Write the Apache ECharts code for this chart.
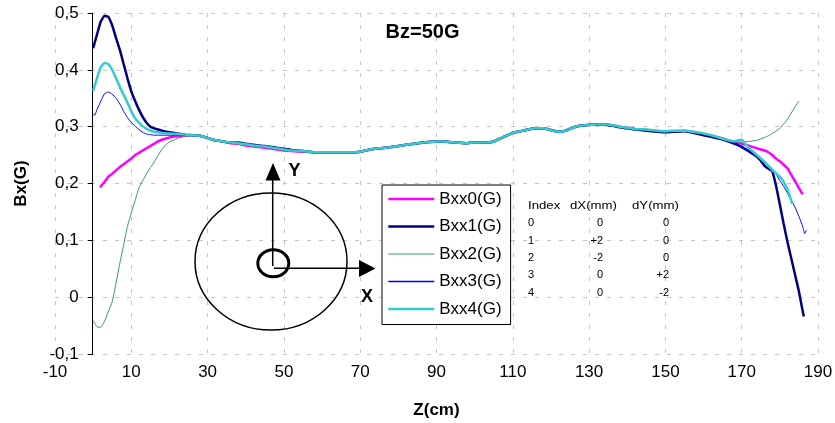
<!DOCTYPE html>
<html><head><meta charset="utf-8">
<script src="https://cdn.jsdelivr.net/npm/echarts@6/dist/echarts.min.js"></script>
<style>html,body{margin:0;padding:0;background:#fff}#c{width:835px;height:423px}</style>
</head><body><div id="c"></div>
<script>
// ---------- DATA ----------
const seriesNames = ['Bxx0(G)', 'Bxx1(G)', 'Bxx2(G)', 'Bxx3(G)', 'Bxx4(G)'];
const xTickLabels = [-10, 10, 30, 50, 70, 90, 110, 130, 150, 170, 190];
const yTickLabels = [-0.1, 0, 0.1, 0.2, 0.3, 0.4, 0.5];
const chartTitle = 'Bz=50G';
const xAxisName = 'Z(cm)';
const yAxisName = 'Bx(G)';

// [Z(cm), Bx(G)]
const bxx0 = [[1.8,0.193],[3,0.203],[4,0.212],[5,0.217],[6,0.223],[7,0.229],[8,0.234],[9,0.239],[10,0.244],[11,0.250],[12,0.254],[13,0.258],[14,0.262],[15,0.266],[16,0.270],[17,0.274],[18,0.277],[20,0.281],[22,0.283],[24,0.284],
 [26,0.285],[28,0.284],[30,0.280],[32,0.276],[34,0.274],[36,0.271],[38,0.270],[40,0.267],[42,0.265],[45,0.263],[48,0.260],[50,0.258],[52,0.257],[55,0.256],[58,0.255],[60,0.255],[62,0.255],[65,0.255],[68,0.255],[70,0.256],[72,0.259],[75,0.262],[78,0.264],[80,0.266],[82,0.268],[85,0.271],[88,0.273],[90,0.274],[92,0.274],[95,0.272],[98,0.271],[100,0.272],[103,0.272],[105,0.274],[107,0.280],[110,0.289],[112,0.292],[114,0.295],[116,0.297],[118,0.297],[120,0.294],[122,0.291],[124,0.294],[126,0.299],[128,0.302],[130,0.303],[132,0.304],[135,0.304],[138,0.300],[140,0.298],[142,0.296],[145,0.294],[148,0.292],[150,0.291],[152,0.292],[155,0.293],[158,0.290],[160,0.287],[162,0.284],[164,0.281],[166,0.277],[168,0.273],
 [170,0.270],[172,0.266],[174,0.262],[176,0.258],[177,0.255],[178,0.250],[179,0.244],[180,0.239],[181,0.233],[182,0.227],[183,0.215],[184,0.204],[185,0.192],[186,0.181]];

const bxx1 = [[0,0.438],[1,0.462],[2,0.485],[3,0.495],[4,0.493],[5,0.478],[6,0.456],[7,0.435],[8,0.410],[9,0.385],[10,0.362],[11,0.345],[12,0.330],[13,0.317],[14,0.307],[15,0.300],[16,0.297],[17,0.295],[18,0.293],[20,0.290],[22,0.288],[24,0.286],
 [26,0.285],[28,0.284],[30,0.280],[32,0.276],[34,0.274],[36,0.272],[38,0.272],[40,0.270],[42,0.268],[45,0.266],[48,0.263],[50,0.261],[52,0.259],[55,0.257],[58,0.255],[60,0.255],[62,0.255],[65,0.255],[68,0.255],[70,0.256],[72,0.259],[75,0.262],[78,0.264],[80,0.266],[82,0.268],[85,0.271],[88,0.273],[90,0.274],[92,0.274],[95,0.272],[98,0.271],[100,0.272],[103,0.272],[105,0.274],[107,0.280],[110,0.289],[112,0.292],[114,0.295],[116,0.297],[118,0.297],[120,0.294],[122,0.291],[124,0.293],[126,0.299],[128,0.302],[130,0.303],[132,0.304],[135,0.303],[138,0.299],[140,0.297],[142,0.295],[145,0.293],[148,0.291],[150,0.290],[152,0.291],[155,0.292],[158,0.288],[160,0.285],[162,0.282],[164,0.279],[166,0.275],[168,0.270],
 [170,0.264],[172,0.256],[174,0.247],[175,0.240],[176,0.231],[177,0.226],[178,0.222],[179,0.196],[180,0.163],[181,0.129],[182,0.097],[183,0.068],[184,0.039],[185,0.010],[186,-0.025],[186.3,-0.034]];

const bxx2 = [[0,-0.041],[1,-0.052],[2,-0.053],[3,-0.042],[4,-0.025],[5,-0.008],[6,0.025],[7,0.060],[8,0.092],[9,0.125],[10,0.148],[11,0.170],[12,0.192],[13,0.205],[14,0.217],[15,0.228],[16,0.238],[17,0.249],[18,0.260],[19,0.268],[20,0.273],[22,0.279],[24,0.283],
 [26,0.285],[28,0.285],[30,0.281],[32,0.276],[34,0.274],[36,0.272],[38,0.270],[40,0.268],[42,0.266],[45,0.264],[48,0.261],[50,0.259],[52,0.257],[55,0.256],[58,0.255],[60,0.255],[62,0.255],[65,0.255],[68,0.255],[70,0.256],[72,0.259],[75,0.262],[78,0.264],[80,0.266],[82,0.268],[85,0.271],[88,0.273],[90,0.274],[92,0.274],[95,0.272],[98,0.271],[100,0.272],[103,0.272],[105,0.274],[107,0.280],[110,0.289],[112,0.292],[114,0.295],[116,0.297],[118,0.297],[120,0.294],[122,0.291],[124,0.293],[126,0.299],[128,0.302],[130,0.303],[132,0.304],[135,0.304],[138,0.300],[140,0.298],[142,0.296],[145,0.294],[148,0.292],[150,0.291],[152,0.292],[155,0.293],[158,0.290],[160,0.287],[162,0.284],[164,0.280],[166,0.276],[168,0.273],
 [170,0.273],[172,0.274],[174,0.276],[176,0.281],[177,0.284],[178,0.288],[179,0.292],[180,0.297],[181,0.305],[182,0.313],[183,0.324],[184,0.335],[185,0.345]];

const bxx3 = [[0,0.322],[0.4,0.320],[1,0.330],[2,0.345],[3,0.358],[4,0.361],[5,0.357],[6,0.350],[7,0.340],[8,0.327],[9,0.316],[10,0.307],[11,0.301],[12,0.295],[13,0.290],[14,0.287],[15,0.286],[16,0.285],[17,0.285],[18,0.285],[20,0.285],[22,0.285],[24,0.285],
 [26,0.285],[28,0.284],[30,0.280],[32,0.276],[34,0.274],[36,0.272],[38,0.271],[40,0.269],[42,0.267],[45,0.265],[48,0.262],[50,0.260],[52,0.258],[55,0.257],[58,0.255],[60,0.255],[62,0.255],[65,0.255],[68,0.255],[70,0.256],[72,0.259],[75,0.262],[78,0.264],[80,0.266],[82,0.268],[85,0.271],[88,0.273],[90,0.274],[92,0.274],[95,0.272],[98,0.271],[100,0.272],[103,0.272],[105,0.274],[107,0.280],[110,0.289],[112,0.292],[114,0.295],[116,0.297],[118,0.297],[120,0.294],[122,0.291],[124,0.293],[126,0.299],[128,0.302],[130,0.303],[132,0.304],[135,0.304],[138,0.300],[140,0.298],[142,0.296],[145,0.294],[148,0.292],[150,0.291],[152,0.292],[155,0.293],[158,0.290],[160,0.287],[162,0.284],[164,0.280],[166,0.276],[168,0.272],
 [170,0.266],[172,0.258],[174,0.250],[176,0.238],[177,0.232],[178,0.226],[179,0.217],[180,0.205],[181,0.195],[182,0.183],[183,0.170],[184,0.158],[185,0.142],[186,0.124],[186.5,0.112],[187,0.118]];

const bxx4 = [[0,0.363],[1,0.385],[2,0.405],[3,0.412],[4,0.410],[5,0.400],[6,0.385],[7,0.370],[8,0.356],[9,0.342],[10,0.327],[11,0.315],[12,0.307],[13,0.301],[14,0.296],[15,0.293],[16,0.291],[17,0.290],[18,0.289],[20,0.288],[22,0.287],[24,0.286],
 [26,0.285],[28,0.284],[30,0.280],[32,0.276],[34,0.274],[36,0.272],[38,0.271],[40,0.269],[42,0.267],[45,0.265],[48,0.262],[50,0.260],[52,0.258],[55,0.257],[58,0.255],[60,0.255],[62,0.255],[65,0.255],[68,0.255],[70,0.256],[72,0.259],[75,0.262],[78,0.264],[80,0.266],[82,0.268],[85,0.271],[88,0.273],[90,0.274],[92,0.274],[95,0.272],[98,0.271],[100,0.272],[103,0.272],[105,0.274],[107,0.280],[110,0.289],[112,0.292],[114,0.295],[116,0.297],[118,0.297],[120,0.294],[122,0.291],[124,0.293],[126,0.299],[128,0.302],[130,0.303],[132,0.304],[135,0.304],[138,0.300],[140,0.298],[142,0.296],[145,0.295],[148,0.293],[150,0.292],[152,0.293],[155,0.293],[158,0.290],[160,0.288],[162,0.285],[164,0.281],[166,0.277],[168,0.274],
 [169,0.276],[170,0.277],[171,0.269],[172,0.262],[174,0.250],[176,0.238],[177,0.231],[178,0.224],[179,0.218],[180,0.212],[181,0.203],[182,0.190],[183,0.170],[183.3,0.164]];

const seriesData = [bxx0, bxx1, bxx2, bxx3, bxx4];

// table annotation
const tableHeader = ['Index', 'dX(mm)', 'dY(mm)'];
const tableIndex = ['0', '1', '2', '3', '4'];
const tableDX = ['0', '+2', '-2', '0', '0'];
const tableDY = ['0', '0', '0', '+2', '-2'];

// ---------- STYLE ----------
const FONT = 'Liberation Sans, Arial, sans-serif';
const colors = ['#FF00FF', '#000080', '#339966', '#0000FF', '#33CCCC'];
const widths = [2.5, 2.5, 1, 1, 2.5];
const legendWidths = [2.5, 2.5, 1, 1.5, 2.5];
const gridColor = '#c4c4c4';

const chart = echarts.init(document.getElementById('c'), null, { renderer: 'canvas' });

const graphics = [];
// title
graphics.push({ type: 'text', x: 422.5, y: 32, z: 100,
  style: { text: chartTitle, fill: '#000', font: 'bold 20px ' + FONT, align: 'center', verticalAlign: 'middle' } });
// y axis name
graphics.push({ type: 'text', x: 21, y: 183.5, rotation: Math.PI / 2, z: 100,
  style: { text: yAxisName, fill: '#000', font: 'bold 17px ' + FONT, align: 'center', verticalAlign: 'middle' } });
// coordinate sketch
graphics.push({ type: 'ellipse', z: 100, shape: { cx: 271, cy: 261.5, rx: 76, ry: 68.5 }, style: { fill: 'none', stroke: '#000', lineWidth: 1.5 } });
graphics.push({ type: 'ellipse', z: 100, shape: { cx: 273.3, cy: 263.3, rx: 15.5, ry: 13.5 }, style: { fill: 'none', stroke: '#000', lineWidth: 3 } });
graphics.push({ type: 'line', z: 100, shape: { x1: 272.7, y1: 266, x2: 272.7, y2: 179 }, style: { stroke: '#000', lineWidth: 1.5 } });
graphics.push({ type: 'polygon', z: 100, shape: { points: [[265.5, 180.5], [280.5, 180.5], [273, 163]] }, style: { fill: '#000' } });
graphics.push({ type: 'line', z: 100, shape: { x1: 274, y1: 268.3, x2: 360, y2: 268.3 }, style: { stroke: '#000', lineWidth: 1.5 } });
graphics.push({ type: 'polygon', z: 100, shape: { points: [[359, 260], [359, 277], [375.5, 268.5]] }, style: { fill: '#000' } });
graphics.push({ type: 'text', x: 294.5, y: 171, z: 100, style: { text: 'Y', fill: '#000', font: 'bold 18px ' + FONT, align: 'center', verticalAlign: 'middle' } });
graphics.push({ type: 'text', x: 367, y: 297, z: 100, style: { text: 'X', fill: '#000', font: 'bold 18px ' + FONT, align: 'center', verticalAlign: 'middle' } });
// table
const headerX = [528, 570, 632];
tableHeader.forEach((t, i) => graphics.push({ type: 'text', x: headerX[i], y: 205.5, scaleX: 1.2, z: 100,
  style: { text: t, fill: '#000', font: '11px ' + FONT, align: 'left', verticalAlign: 'middle' } }));
tableIndex.forEach((t, i) => {
  const y = 223.3 + i * 17.35;
  graphics.push({ type: 'text', x: 528, y: y, z: 100, style: { text: t, fill: '#000', font: '11px ' + FONT, align: 'left', verticalAlign: 'middle' } });
  graphics.push({ type: 'text', x: 603, y: y, z: 100, style: { text: tableDX[i], fill: '#000', font: '11px ' + FONT, align: 'right', verticalAlign: 'middle' } });
  graphics.push({ type: 'text', x: 669, y: y, z: 100, style: { text: tableDY[i], fill: '#000', font: '11px ' + FONT, align: 'right', verticalAlign: 'middle' } });
});

const splitStyle = { show: true, lineStyle: { color: gridColor, width: 1, type: [4, 8] } };

chart.setOption({
  animation: false,
  backgroundColor: '#fff',
  textStyle: { fontFamily: FONT },
  grid: { left: 55, right: 17, top: 13, bottom: 69, containLabel: false, outerBoundsMode: 'none' },
  legend: {
    orient: 'vertical', left: 382, top: 185,
    itemWidth: 46, itemHeight: 14, itemGap: 10.5,
    padding: [5.5, 9, 7, 5],
    borderColor: '#000', borderWidth: 1, backgroundColor: '#fff',
    textStyle: { fontSize: 17, color: '#000', fontFamily: FONT },
    data: seriesNames.map((n, i) => ({ name: n,
      itemStyle: { opacity: 0, color: 'transparent', borderWidth: 0 },
      lineStyle: { width: legendWidths[i], color: colors[i], opacity: 1 } }))
  },
  xAxis: {
    type: 'value', min: -10, max: 190,
    axisLine: { show: false, onZero: false },
    axisTick: { show: false, customValues: xTickLabels },
    axisLabel: { customValues: xTickLabels, fontSize: 17, color: '#000', margin: 10, fontFamily: FONT },
    splitLine: splitStyle,
    name: xAxisName, nameLocation: 'middle', nameGap: 48,
    nameTextStyle: { fontSize: 17, fontWeight: 'bold', color: '#000', fontFamily: FONT }
  },
  yAxis: {
    type: 'value', min: yTickLabels[0], max: yTickLabels[yTickLabels.length - 1], interval: 0.1,
    position: 'left', offset: -37.7,
    axisLine: { show: true, onZero: false, lineStyle: { color: '#000', width: 1 } },
    axisTick: { show: true, length: 5, lineStyle: { color: '#000', width: 1 } },
    axisLabel: { fontSize: 17, color: '#000', margin: 14, fontFamily: FONT,
      formatter: v => (Math.abs(v) < 1e-9 ? '0' : v.toFixed(1).replace('.', ',')) },
    splitLine: splitStyle
  },
  series: seriesNames.map((n, i) => ({
    name: n, type: 'line', data: seriesData[i], symbol: 'none', smooth: 0.15,
    lineStyle: { color: colors[i], width: widths[i] }, itemStyle: { color: colors[i] }, z: 2 + i
  })),
  graphic: graphics
});
</script>
</body></html>
